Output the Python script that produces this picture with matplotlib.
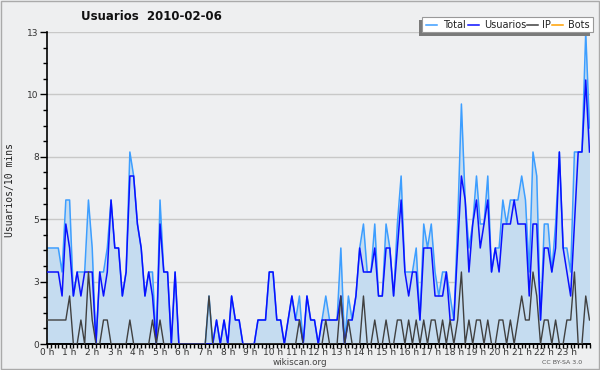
import numpy as np
import matplotlib
matplotlib.use('Agg')
import matplotlib.pyplot as plt
from matplotlib.lines import Line2D
from matplotlib.patches import Rectangle

# 10-minute slots over one day (145 points, 0h00 .. 24h00)
usuarios = [3, 3, 3, 3, 2, 5, 4, 2, 3, 2, 3, 3, 3, 0, 3, 2, 3, 6, 4, 4, 2, 3, 7, 7,
            5, 4, 2, 3, 2, 0, 5, 3, 3, 0, 3, 0, 0, 0, 0, 0, 0, 0, 0, 0, 0, 1, 0, 1,
            0, 2, 1, 1, 0, 0, 0, 0, 1, 1, 1, 3, 3, 1, 1, 0, 1, 2, 1, 1, 0, 2, 1, 1,
            0, 1, 1, 1, 1, 1, 2, 0, 1, 1, 2, 4, 3, 3, 3, 4, 2, 2, 4, 4, 2, 4, 6, 3,
            2, 3, 3, 1, 4, 4, 4, 2, 2, 2, 3, 1, 1, 4, 7, 6, 3, 5, 6, 4, 5, 6, 3, 4,
            3, 5, 5, 5, 6, 5, 5, 5, 2, 5, 5, 1, 4, 4, 3, 4, 8, 4, 3, 2, 5, 8, 8, 11,
            8]
ip = [1, 1, 1, 1, 1, 1, 2, 0, 0, 1, 0, 3, 1, 0, 0, 1, 1, 0, 0, 0, 0, 0, 1, 0,
      0, 0, 0, 0, 1, 0, 1, 0, 0, 0, 0, 0, 0, 0, 0, 0, 0, 0, 0, 2, 0, 0, 0, 0,
      0, 0, 0, 0, 0, 0, 0, 0, 0, 0, 0, 0, 0, 0, 0, 0, 0, 0, 0, 1, 0, 0, 0, 0,
      0, 0, 1, 0, 0, 0, 2, 0, 1, 0, 0, 0, 2, 0, 0, 1, 0, 0, 1, 0, 0, 1, 1, 0,
      1, 0, 1, 0, 1, 0, 1, 1, 0, 1, 0, 1, 0, 1, 3, 0, 1, 0, 1, 1, 0, 1, 0, 0,
      1, 1, 0, 1, 0, 1, 2, 1, 1, 3, 2, 0, 1, 1, 0, 1, 0, 0, 1, 1, 3, 0, 0, 2,
      1]
bots = [0] * 145
total = [u + i + b for u, i, b in zip(usuarios, ip, bots)]

hour_labels = [f'{h} h' for h in range(24)]
ytick_labels = ['0', '3', '5', '8', '10', '13']

W, H = 600, 370


def fx(x):
    return x / W


def fy(y):
    return 1 - y / H


fig = plt.figure(figsize=(6, 3.7), dpi=100, facecolor='#eeeff0')
ax = fig.add_axes([fx(47), fy(344), (589.5 - 47) / W, (344 - 32) / H])
ax.set_facecolor('#eeeff1')

x = np.arange(len(total))
ax.fill_between(x, 0, total, color='#c5dcf0', lw=0, zorder=1)
ax.plot(x, total, color='#3d9eff', lw=1.1, zorder=2)
ax.plot(x, usuarios, color='#0a10ff', lw=1.1, zorder=3)
ax.plot(x, ip, color='#404040', lw=1.0, zorder=4)
ax.plot(x, bots, color='#ffa000', lw=1.0, zorder=1.5)

ax.set_xlim(0, 144)
ax.set_ylim(0, 13)
ax.set_yticks(np.linspace(0, 13, 6))
ax.set_yticklabels(ytick_labels)
ax.set_yticks(np.arange(0, 13.01, 0.65), minor=True)
ax.set_xticks(np.arange(0, 144, 6))
ax.set_xticklabels(hour_labels)
ax.set_xticks(np.arange(0, 145, 1), minor=True)

ax.tick_params(axis='y', which='major', length=5, width=1, labelsize=6.5,
               labelcolor='#333333', pad=1)
ax.tick_params(axis='y', which='minor', length=3, width=1)
ax.tick_params(axis='x', which='both', length=3, width=1, labelsize=6.5,
               labelcolor='#333333', pad=0)

ax.grid(axis='y', which='major', color='#c8c8c8', lw=1)
ax.set_axisbelow(True)
for s in ['top', 'right']:
    ax.spines[s].set_visible(False)
ax.spines['left'].set_linewidth(1.2)
ax.spines['bottom'].set_linewidth(1.4)

fig.text(fx(151), fy(17), 'Usuarios  2010-02-06', ha='center', va='center',
         fontsize=8.5, fontweight='bold', color='#111111')
fig.text(fx(10), fy(190), 'Usuarios/10 mins', rotation=90, ha='center',
         va='center', fontsize=7, family='DejaVu Sans Mono', color='#222222')
fig.text(fx(300), fy(362.5), 'wikiscan.org', ha='center', va='center',
         fontsize=6.3, color='#444444')
fig.text(fx(562), fy(363), 'CC BY-SA 3.0', ha='center', va='center',
         fontsize=4.5, color='#555555')

# legend box with shadow
fig.add_artist(Rectangle((fx(419), fy(36)), (590 - 419) / W, (36 - 20) / H,
                         transform=fig.transFigure, color='#7a7a7a', lw=0))
fig.add_artist(Rectangle((fx(422), fy(32)), (593 - 422) / W, (32 - 17) / H,
                         transform=fig.transFigure, facecolor='white',
                         edgecolor='#999999', lw=0.8))
legend_items = [('Total', '#3d9eff', 426, 443), ('Usuarios', '#0a10ff', 468, 484),
                ('IP', '#404040', 527, 542), ('Bots', '#ffa000', 552, 568)]
for name, col, lx, tx in legend_items:
    fig.add_artist(Line2D([fx(lx), fx(lx + 11)], [fy(24.5), fy(24.5)],
                          transform=fig.transFigure, color=col, lw=1.1))
    fig.text(fx(tx), fy(24.5), name, ha='left', va='center', fontsize=7,
             color='#222222')

# outer border
fig.add_artist(Rectangle((0.001, 0.002), 0.997, 0.996, transform=fig.transFigure,
                         fill=False, edgecolor='#aaaaaa', lw=1))

fig.savefig('out.png', dpi=100, facecolor=fig.get_facecolor())
